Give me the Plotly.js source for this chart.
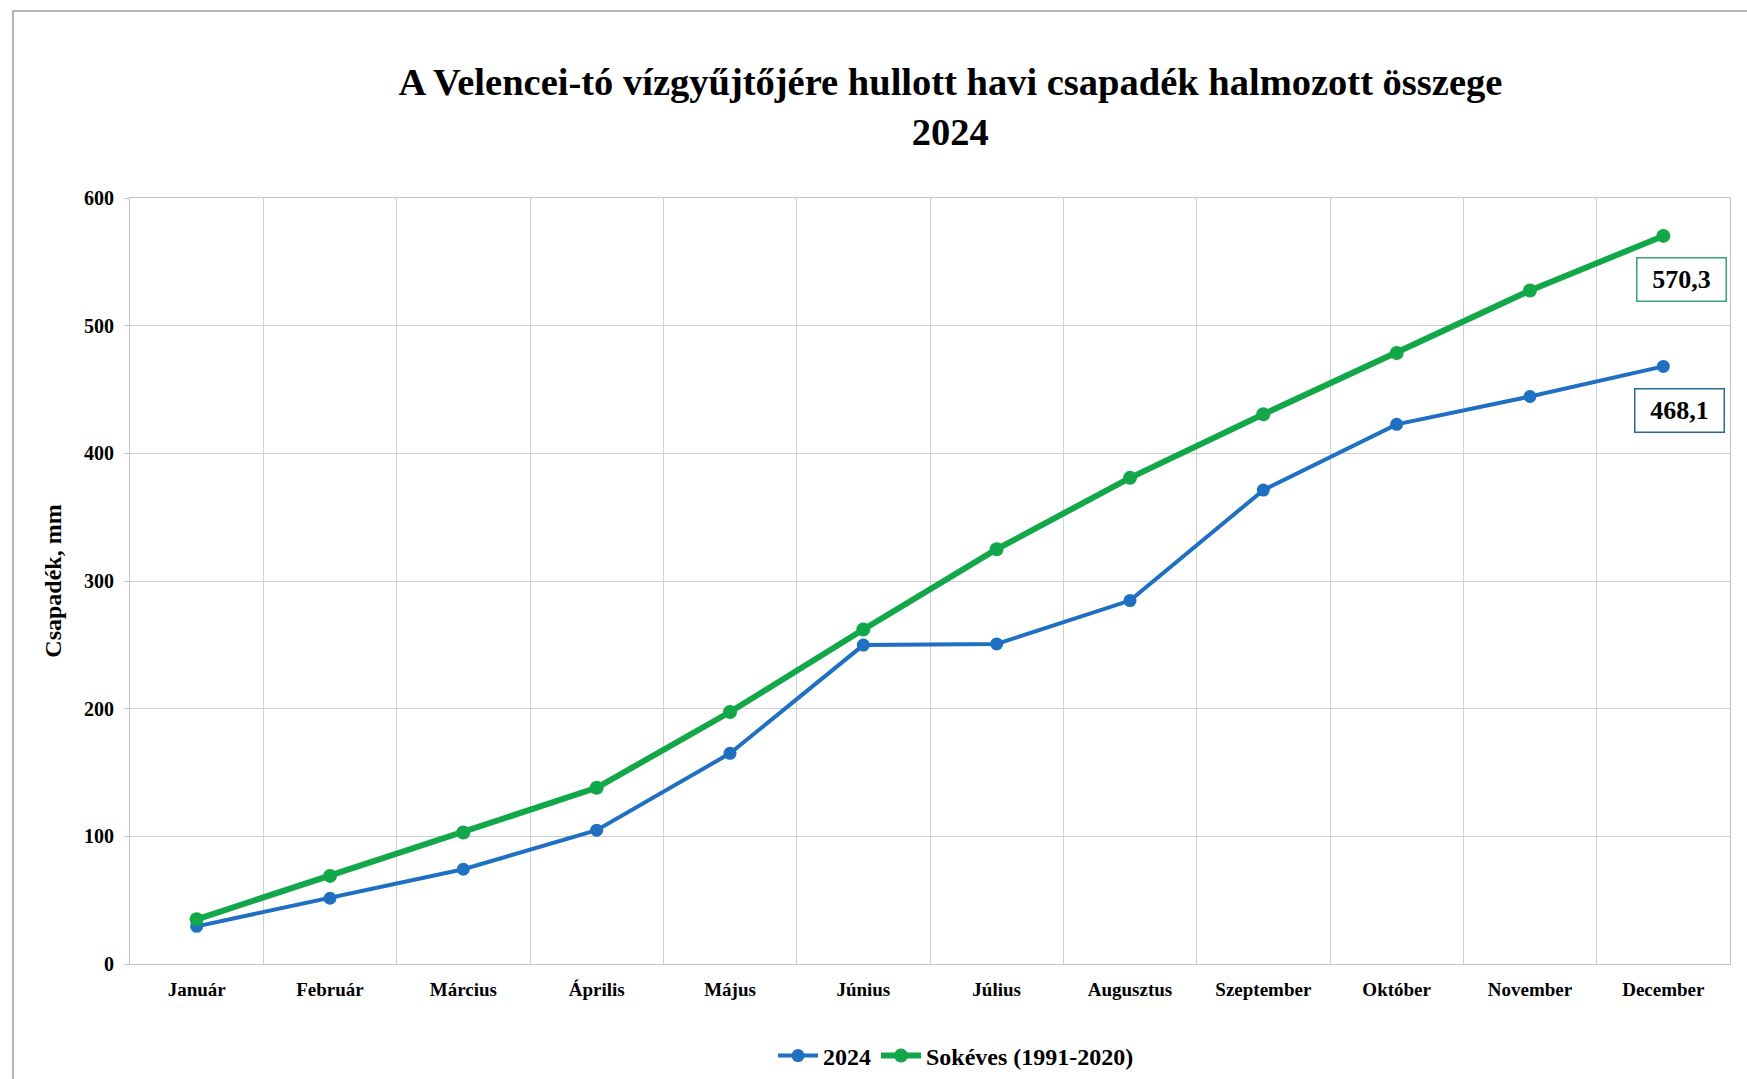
<!DOCTYPE html>
<html>
<head>
<meta charset="utf-8">
<script src="https://cdn.plot.ly/plotly-3.0.1.min.js"></script>
<style>
  html, body { margin: 0; padding: 0; background: #ffffff; }
  #chart { width: 1747px; height: 1079px; }
</style>
</head>
<body>
<div id="chart"></div>
<script>
// Months of the year (Hungarian)
const months = ['Január', 'Február', 'Március', 'Április', 'Május', 'Június',
                'Július', 'Augusztus', 'Szeptember', 'Október', 'November', 'December'];

// Cumulative monthly precipitation, mm
const precip2024 = [29.5, 51.5, 74.2, 104.8, 165.0, 249.8, 250.7, 284.7, 371.2, 422.7, 444.5, 468.1];
const precipLongTerm = [35.0, 69.0, 103.0, 138.0, 197.4, 262.0, 324.9, 380.8, 430.6, 478.6, 527.5, 570.3];

const seriesNames = ['2024', 'Sokéves (1991-2020)'];
const yTicks = [0, 100, 200, 300, 400, 500, 600];

const blue = '#1f6fc2';
const green = '#12a84a';
const serif = '"Liberation Serif", "Times New Roman", serif';

const fmt = v => v.toFixed(1).replace('.', ',');

const traces = [
  {
    x: months, y: precip2024, name: seriesNames[0],
    type: 'scatter', mode: 'lines+markers',
    line: { color: blue, width: 4 },
    marker: { color: blue, size: 13 }
  },
  {
    x: months, y: precipLongTerm, name: seriesNames[1],
    type: 'scatter', mode: 'lines+markers',
    line: { color: green, width: 6 },
    marker: { color: green, size: 14 }
  }
];

const last = months.length - 1;

// plot frame in pixels
const M = { l: 130, r: 17, t: 198, b: 115 };
const plotH = 1079 - M.t - M.b;
const plotW = 1747 - M.l - M.r;
const plotBottom = 1079 - M.b;

const layout = {
  width: 1747, height: 1079,
  margin: M,
  paper_bgcolor: '#ffffff',
  plot_bgcolor: '#ffffff',
  font: { family: serif, color: '#000000' },
  title: {
    text: '<b>A Velencei-tó vízgyűjtőjére hullott havi csapadék halmozott összege<br>2024</b>',
    font: { family: serif, size: 38.5, color: '#000000' },
    xref: 'container', yref: 'container',
    x: 0.544, xanchor: 'center',
    y: 1 - 95 / 1079, yanchor: 'top'
  },
  xaxis: {
    type: 'category',
    categoryorder: 'array', categoryarray: months,
    range: [-0.5, 11.5],
    tickson: 'boundaries',
    showgrid: true, gridcolor: '#d0d0d0', gridwidth: 1,
    showline: true, linecolor: '#c4c4c4', linewidth: 1, mirror: true,
    ticks: '', ticklabelstandoff: 8,
    tickfont: { family: serif, size: 19, color: '#000000', weight: 'bold' },
    zeroline: false, fixedrange: true
  },
  yaxis: {
    range: [0, 600],
    tickvals: yTicks,
    showgrid: true, gridcolor: '#d0d0d0', gridwidth: 1,
    showline: true, linecolor: '#c4c4c4', linewidth: 1, mirror: true,
    ticks: 'outside', ticklen: 5, tickcolor: '#c4c4c4',
    tickfont: { family: serif, size: 20, color: '#000000', weight: 'bold' },
    ticklabelstandoff: 6,
    title: {
      text: '<b>Csapadék, mm</b>',
      font: { family: serif, size: 24, color: '#000000' },
      standoff: 15
    },
    zeroline: false, fixedrange: true
  },
  legend: {
    orientation: 'h',
    xref: 'container', yref: 'container',
    x: 956 / 1747, xanchor: 'center',
    y: 1 - 1056 / 1079, yanchor: 'middle',
    font: { family: serif, size: 24, color: '#000000', weight: 'bold' },
    itemwidth: 40,
    tracegroupgap: 0
  },
  annotations: [
    {
      x: months[last], y: precipLongTerm[last],
      text: '<b>' + fmt(precipLongTerm[last]) + '</b>',
      showarrow: false, xshift: 18, yshift: -44,
      width: 84, height: 38, borderpad: 2,
      font: { family: serif, size: 26, color: '#000000' },
      bordercolor: '#3a9e78', borderwidth: 1.5,
      bgcolor: '#ffffff'
    },
    {
      x: months[last], y: precip2024[last],
      text: '<b>' + fmt(precip2024[last]) + '</b>',
      showarrow: false, xshift: 16, yshift: -44,
      width: 84, height: 38, borderpad: 2,
      font: { family: serif, size: 26, color: '#000000' },
      bordercolor: '#2a6a8c', borderwidth: 1.5,
      bgcolor: '#ffffff'
    }
  ],
  shapes: [
    {
      type: 'rect', xref: 'paper', yref: 'paper', layer: 'below',
      x0: (13 - M.l) / plotW, x1: 1.2,
      y0: -0.4, y1: (plotBottom - 11) / plotH,
      line: { color: '#b4b4b4', width: 2 }, fillcolor: 'rgba(0,0,0,0)'
    }
  ],
  showlegend: true
};

Plotly.newPlot('chart', traces, layout, { displayModeBar: false, staticPlot: true });
</script>
</body>
</html>
